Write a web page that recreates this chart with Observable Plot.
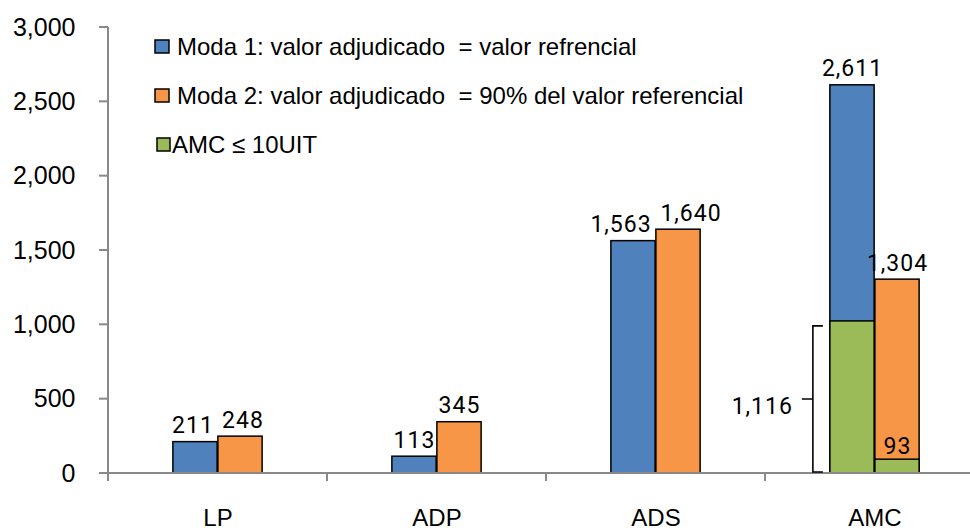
<!DOCTYPE html>
<html><head><meta charset="utf-8">
<script src="https://cdn.jsdelivr.net/npm/d3@7"></script>
<script src="https://cdn.jsdelivr.net/npm/@observablehq/plot@0.6"></script>
<style>
body{margin:0;background:#fff;overflow:hidden}
#chart{position:relative;width:970px;height:530px}
g[aria-label="text"] text{letter-spacing:1px}
</style></head><body><div id="chart"></div>
<script>
const categories = ["LP", "ADP", "ADS", "AMC"];
const moda1 = [211, 113, 1563, 2611];
const moda2 = [248, 345, 1640, 1304];
const amcCategory = "AMC";
const amcMenor10UIT = {moda1: 1023, moda2: 93};
const amcMenor10UITTotal = 1116;
const yTicks = [0, 500, 1000, 1500, 2000, 2500, 3000];
const seriesNames = [
  "Moda 1: valor adjudicado  = valor refrencial",
  "Moda 2: valor adjudicado  = 90% del valor referencial",
  "AMC \u2264 10UIT"
];
const colors = ["#4F81BD", "#F79646", "#9BBB59"];

const W = 970, H = 530, X0 = 106, X1 = 985, Y0 = 473, YT = 27;
const bw = (X1 - X0) / categories.length;
const barW = 45;
const leftBar = {insetLeft: bw / 2 - barW, insetRight: bw / 2};
const rightBar = {insetLeft: bw / 2, insetRight: bw / 2 - barW};
const fmt = d3.format(",");
const labelFont = "Roboto, 'Liberation Sans', sans-serif";
const labelSize = 23;
const barStyle = {stroke: "#000", strokeWidth: 1.5};

// push apart the two value labels of a category when they would collide
const pxPerUnit = (Y0 - YT) / 3000;
const estWidth = s => [...s].reduce((w, ch) => w + (ch === "," ? 5 : 13) + 1, 0);
const shifts = categories.map((c, i) => {
  const a = fmt(moda1[i]), b = fmt(moda2[i]);
  const dyPx = Math.abs(moda1[i] - moda2[i]) * pxPerUnit;
  if (dyPx > 20) return 0;
  const need = estWidth(a) / 2 + estWidth(b) / 2 + 8;
  return Math.max(0, (need - barW) / 2);
});
const rows1 = categories.map((c, i) => ({cat: c, v: moda1[i]}));
const rows2 = categories.map((c, i) => ({cat: c, v: moda2[i]}));
const green1 = [{cat: amcCategory, v: amcMenor10UIT.moda1}];
const green2 = [{cat: amcCategory, v: amcMenor10UIT.moda2}];

const labelOpts = {x: "cat", y: "v", text: d => fmt(d.v), lineAnchor: "bottom",
  fontFamily: labelFont, fontSize: labelSize, fill: "#000"};
const valueLabels = categories.flatMap((c, i) => [
  Plot.text([rows1[i]], {...labelOpts, dx: -barW / 2 - shifts[i], dy: -9}),
  Plot.text([rows2[i]], {...labelOpts, dx: barW / 2 + shifts[i], dy: -9})
]);

function decorations(index, scales) {
  const x = scales.x, y = scales.y;
  const g = d3.create("svg:g").attr("text-anchor", "start");
  const y0 = y(0), yTop = y(yTicks[yTicks.length - 1]);
  const xl = x(categories[0]);
  g.append("line").attr("x1", xl).attr("x2", xl).attr("y1", yTop).attr("y2", y0)
    .attr("stroke", "#898989").attr("stroke-width", 2);
  for (const t of yTicks) {
    g.append("line").attr("x1", xl - 9).attr("x2", xl).attr("y1", y(t)).attr("y2", y(t))
      .attr("stroke", "#898989").attr("stroke-width", 2);
  }
  g.append("line").attr("x1", xl - 9).attr("x2", W).attr("y1", y0).attr("y2", y0)
    .attr("stroke", "#898989").attr("stroke-width", 2);
  for (const c of categories) {
    const bx = x(c);
    g.append("line").attr("x1", bx).attr("x2", bx).attr("y1", y0).attr("y2", y0 + 8)
      .attr("stroke", "#898989").attr("stroke-width", 2);
  }
  // bracket for AMC <= 10UIT total
  const bx = x(amcCategory) + bw / 2 - barW - 17;
  const yt = y(amcMenor10UIT.moda1) + 5, yb = y0 - 1;
  const ym = (yt + yb) / 2;
  g.append("path")
    .attr("d", `M${bx + 10},${yt}H${bx}V${yb}H${bx + 10}M${bx},${ym}H${bx - 11}`)
    .attr("fill", "none").attr("stroke", "#000").attr("stroke-width", 1.6);
  g.append("text").attr("x", bx - 20).attr("y", ym + 15).attr("text-anchor", "end")
    .attr("font-family", labelFont).attr("font-size", labelSize).attr("letter-spacing", 1)
    .attr("fill", "#000").text(fmt(amcMenor10UITTotal));
  // legend
  const leg = [
    {sx: 155, sw: 14, base: 55, tx: 177},
    {sx: 155, sw: 14, base: 104, tx: 177},
    {sx: 157, sw: 13, base: 153, tx: 172}
  ];
  seriesNames.forEach((name, i) => {
    const L = leg[i];
    g.append("rect").attr("x", L.sx).attr("y", L.base - 15).attr("width", L.sw).attr("height", 13)
      .attr("fill", colors[i]).attr("stroke", "#000").attr("stroke-width", 1.5);
    g.append("text").attr("x", L.tx).attr("y", L.base).attr("fill", "#000")
      .attr("text-anchor", "start")
      .attr("font-family", "'Liberation Sans', Arial, sans-serif").attr("font-size", 24)
      .style("white-space", "pre")
      .text(name);
  });
  return g.node();
}

const chart = Plot.plot({
  width: W, height: H,
  marginTop: YT, marginBottom: H - Y0, marginLeft: X0, marginRight: 0,
  style: {fontFamily: "'Liberation Sans', Arial, sans-serif", fontSize: "24px", color: "#000", background: "#fff"},
  x: {type: "band", domain: categories, range: [X0, X1], padding: 0},
  y: {domain: [0, 3000]},
  marks: [
    Plot.axisY({ticks: yTicks, tickFormat: fmt, tickSize: 0, tickPadding: 31, fontSize: 25, label: null}),
    Plot.axisX({tickSize: 0, tickPadding: 35, fontSize: 24, label: null}),
    Plot.barY(rows1, {x: "cat", y: "v", fill: colors[0], ...barStyle, ...leftBar}),
    Plot.barY(rows2, {x: "cat", y: "v", fill: colors[1], ...barStyle, ...rightBar}),
    Plot.barY(green1, {x: "cat", y: "v", fill: colors[2], ...barStyle, ...leftBar}),
    Plot.barY(green2, {x: "cat", y: "v", fill: colors[2], ...barStyle, ...rightBar}),
    ...valueLabels,
    Plot.text(green2, {...labelOpts, dx: barW / 2, dy: -6}),
    decorations
  ]
});
document.getElementById("chart").appendChild(chart);
</script></body></html>
